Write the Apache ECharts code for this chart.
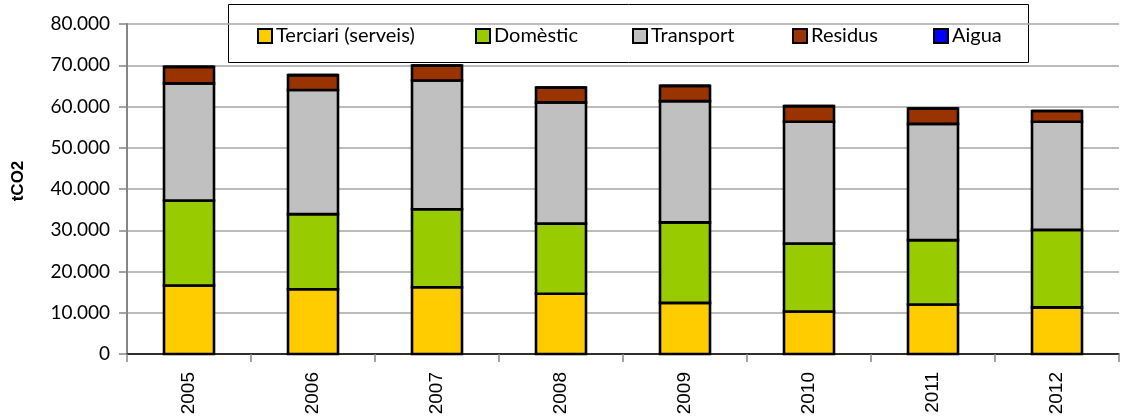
<!DOCTYPE html>
<html>
<head>
<meta charset="utf-8">
<script src="https://cdn.jsdelivr.net/npm/echarts@6/dist/echarts.min.js"></script>
<style>
html, body { margin: 0; padding: 0; background: #fff; }
#chart { width: 1121px; height: 420px; }
</style>
</head>
<body>
<div id="chart"></div>
<script>
// anys
const years = ['2005', '2006', '2007', '2008', '2009', '2010', '2011', '2012'];

// emissions per sector (tCO2), llegides del gràfic
const terciari = [16600, 15700, 16200, 14600, 12400, 10300, 12000, 11300];
const domestic = [20600, 18200, 18900, 17000, 19500, 16500, 15600, 18800];
const transport = [28400, 30100, 31200, 29400, 29400, 29500, 28200, 26200];
const residus = [4000, 3600, 3600, 3600, 3700, 3800, 3700, 2600];
const aigua = [0, 0, 0, 0, 0, 0, 0, 0];

const seriesNames = ['Terciari (serveis)', 'Domèstic', 'Transport', 'Residus', 'Aigua'];
const seriesColors = ['#FFCC00', '#99CC00', '#C0C0C0', '#993300', '#0000FF'];
const seriesData = [terciari, domestic, transport, residus, aigua];
// posició horitzontal de cada element de la llegenda
const legendLeft = [257, 475, 632, 792, 933];

const chart = echarts.init(document.getElementById('chart'));

// apilat: [categoria, base, cim] per a cada sèrie
const base = years.map(() => 0);
const stacked = seriesData.map(arr => arr.map((v, j) => {
    const item = [j, base[j], base[j] + v];
    base[j] += v;
    return item;
}));

// barra apilada amb la vora centrada al límit (una sola línia entre segments)
function renderBar(params, api) {
    const x = api.value(0);
    const p0 = api.coord([x, api.value(1)]);
    const p1 = api.coord([x, api.value(2)]);
    const w = 50;
    return {
        type: 'rect',
        shape: { x: p0[0] - w / 2, y: p1[1], width: w, height: p0[1] - p1[1] },
        style: { fill: seriesColors[params.seriesIndex], stroke: '#000', lineWidth: 2.6 }
    };
}

const legends = seriesNames.map((name, i) => ({
    data: [name],
    left: legendLeft[i],
    top: 26,
    padding: 0,
    icon: 'rect',
    itemWidth: 14,
    itemHeight: 14,
    itemStyle: { borderColor: '#000', borderWidth: 2 },
    selectedMode: false,
    textStyle: { fontFamily: 'Lato', fontSize: 20, color: '#000', lineHeight: 16, padding: [0, 0, 0, -1] }
}));

const option = {
    animation: false,
    backgroundColor: '#fff',
    textStyle: { fontFamily: 'Lato' },
    graphic: [{
        type: 'rect',
        left: 228,
        top: 4,
        shape: { width: 800, height: 58 },
        style: { fill: '#fff', stroke: '#000', lineWidth: 1 },
        z: 0
    }, {
        // títol de l'eix Y
        type: 'text',
        x: 18,
        y: 181,
        rotation: Math.PI / 2,
        style: {
            text: 'tCO2',
            fontFamily: 'Liberation Sans',
            fontWeight: 'bold',
            fontSize: 17,
            fill: '#000',
            align: 'center',
            verticalAlign: 'middle'
        }
    }],
    legend: legends,
    grid: { left: 127, right: 2, top: 24, bottom: 66 },
    xAxis: {
        type: 'category',
        data: years,
        axisLine: { lineStyle: { color: '#000', width: 1.5 } },
        axisTick: { show: true, length: 8, lineStyle: { color: '#868686', width: 1.5 } },
        axisLabel: {
            rotate: 90,
            margin: 18,
            fontFamily: 'Liberation Sans',
            fontSize: 19,
            color: '#000'
        }
    },
    yAxis: {
        type: 'value',
        min: 0,
        max: 80000,
        interval: 10000,
        axisLine: { show: true, lineStyle: { color: '#868686', width: 2 } },
        axisTick: { show: true, length: 8, lineStyle: { color: '#868686', width: 1.5 } },
        splitLine: { lineStyle: { color: '#A6A6A6', width: 1.5 } },
        axisLabel: {
            margin: 17,
            fontFamily: 'Lato',
            fontSize: 19,
            color: '#000',
            formatter: v => v === 0 ? '0' : String(v).replace(/\B(?=(\d{3})+(?!\d))/g, '.')
        }
    },
    series: seriesNames.map((name, i) => ({
        name: name,
        type: 'custom',
        renderItem: renderBar,
        encode: { x: 0, y: [1, 2] },
        data: stacked[i],
        itemStyle: { color: seriesColors[i] },
        z: 3
    }))
};

chart.setOption(option);
</script>
</body>
</html>
